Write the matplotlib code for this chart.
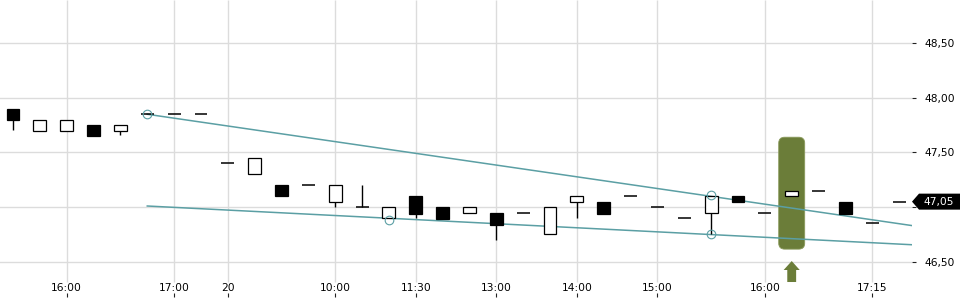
import numpy as np
import matplotlib.pyplot as plt
from matplotlib.patches import FancyBboxPatch, Polygon

# candles, one every index step
opens = [47.90, 47.70, 47.70, 47.75, 47.70, 47.85, 47.85, 47.85, 47.40, 47.30,
         47.20, 47.20, 47.05, 47.00, 46.90, 47.10, 47.00, 46.95, 46.95, 46.95,
         46.75, 47.05, 47.05, 47.10, 47.00, 46.90, 46.95, 47.10, 46.95, 47.10,
         47.15, 47.05, 46.85, 47.05]
closes = [47.80, 47.80, 47.80, 47.65, 47.75, 47.85, 47.85, 47.85, 47.40, 47.45,
          47.10, 47.20, 47.20, 47.00, 47.00, 46.94, 46.89, 47.00, 46.84, 46.95,
          47.00, 47.10, 46.94, 47.10, 47.00, 46.90, 47.10, 47.05, 46.95, 47.15,
          47.15, 46.94, 46.85, 47.05]
highs = [47.90, 47.80, 47.80, 47.75, 47.75, 47.85, 47.85, 47.85, 47.40, 47.45,
         47.20, 47.20, 47.20, 47.20, 47.00, 47.10, 47.00, 47.00, 46.95, 46.95,
         47.00, 47.10, 47.05, 47.10, 47.00, 46.90, 47.10, 47.10, 46.95, 47.15,
         47.15, 47.05, 46.85, 47.05]
lows = [47.71, 47.70, 47.70, 47.65, 47.66, 47.85, 47.85, 47.85, 47.40, 47.30,
        47.10, 47.20, 47.00, 47.00, 46.90, 46.90, 46.89, 46.95, 46.70, 46.95,
        46.75, 46.90, 46.94, 47.10, 47.00, 46.90, 46.75, 47.05, 46.95, 47.10,
        47.15, 46.94, 46.85, 47.05]

tick_pos = [-1, 2, 6, 8, 12, 15, 18, 21, 24, 28, 32]
tick_labels = ["15:30", "16:00", "17:00", "20", "10:00", "11:30", "13:00",
               "14:00", "15:00", "16:00", "17:15"]
price_ticks = [46.5, 47.0, 47.5, 48.0, 48.5]

# wedge lines + pivot points
trend_x = [5, 33.5]
upper_y = [47.85, 46.83]
lower_y = [47.01, 46.655]
pivot_x = [5, 14, 26, 26]
pivot_y = [47.85, 46.885, 47.11, 46.75]

# highlighted signal candle
signal_idx = 29
signal_low, signal_high = 46.615, 47.64

teal = '#5b9fa4'
olive = '#6b7d39'
grid_c = '#dcdcdc'

fig = plt.figure(figsize=(9.6, 3), dpi=100)
ax = fig.add_axes([-40 / 960, 3 / 300, 952 / 960, 297 / 300])
ax.set_xlim(-1.974, 33.48)
ax.set_ylim(46.1767, 48.8965)

for s in ax.spines.values():
    s.set_visible(False)

# grid
for p in price_ticks:
    ax.axhline(p, color=grid_c, lw=1, zorder=0)
ax.vlines(tick_pos, 15 / 297, 1, transform=ax.get_xaxis_transform(),
          color=grid_c, lw=1, zorder=0)

# highlight box + arrow
box = FancyBboxPatch((signal_idx - 0.484, signal_low), 0.968, signal_high - signal_low,
                     boxstyle="round,pad=0,rounding_size=0.22",
                     mutation_aspect=26.85 / 109.2,
                     fc=olive, ec='#8a9a5c', lw=0.6, zorder=1)
ax.add_patch(box)
ax.arrow(signal_idx, 46.314, 0, 0.192, width=0.33, head_width=0.6,
         head_length=0.082, length_includes_head=True, color=olive, lw=0, zorder=1)

# trend lines
ax.plot(trend_x, upper_y, color=teal, lw=1.1, zorder=2)
ax.plot(trend_x, lower_y, color=teal, lw=1.1, zorder=2)
ax.plot(pivot_x, pivot_y, 'o', ms=6.2, mfc='none', mec=teal, mew=0.8, zorder=4)

# candles
w = 0.48
x = np.arange(len(opens))
for i in x:
    o, h, l, c = opens[i], highs[i], lows[i], closes[i]
    if h > max(o, c) or l < min(o, c):
        ax.vlines(i, l, h, color='black', lw=1, zorder=3)
    if abs(c - o) < 1e-9:
        ax.hlines(o, i - w / 2, i + w / 2, color='black', lw=1.1, zorder=3)
    else:
        fc = 'white' if c > o else 'black'
        ax.bar(i, abs(c - o), bottom=min(o, c), width=w, color=fc,
               edgecolor='black', lw=0.9, zorder=3)

# axes ticks
ax.set_xticks(tick_pos)
ax.set_xticklabels(tick_labels)
ax.tick_params(axis='x', direction='in', length=3, width=0.8, pad=-10.3,
               labelsize=7.7, color='#222222')
ax.yaxis.tick_right()
ax.set_yticks(price_ticks)
last = closes[-1]
# the 47,00 label sits under the last-price tag, so leave it blank
ax.set_yticklabels(["" if abs(p - last) < 0.1 else f"{p:.2f}".replace('.', ',')
                    for p in price_ticks])
ax.tick_params(axis='y', direction='out', length=3, width=0.8, pad=6,
               labelsize=7.7, color='#222222')

# last price tag
fig.canvas.draw()
yd = ax.transData.transform((0, last))[1]
tag = Polygon([(912 / 960, yd / 300), (919 / 960, (yd + 8) / 300),
               (960 / 960, (yd + 8) / 300), (960 / 960, (yd - 8) / 300),
               (919 / 960, (yd - 8) / 300)],
              closed=True, transform=fig.transFigure, fc='black', ec='none')
fig.add_artist(tag)
fig.text(923 / 960, yd / 300, f"{last:.2f}".replace('.', ','), color='white',
         fontsize=7.7, va='center', ha='left')

fig.savefig('out.png', dpi=100)
